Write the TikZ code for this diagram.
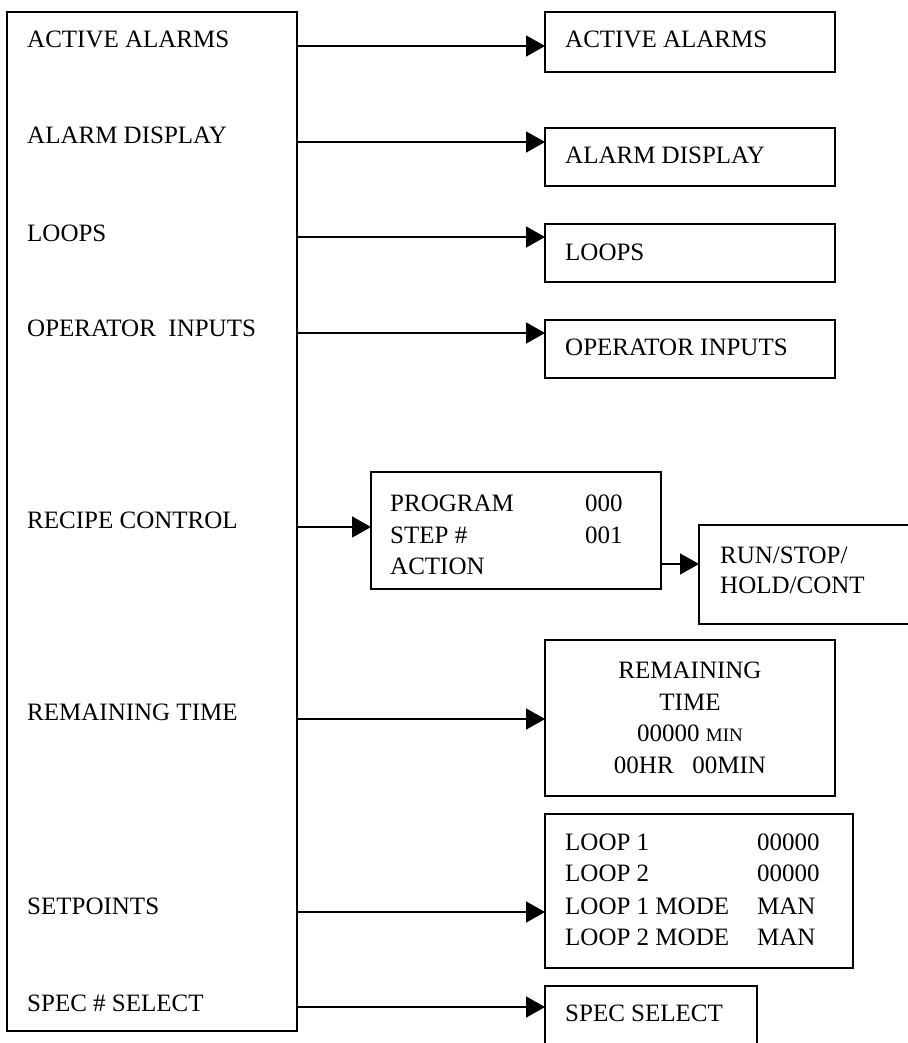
\documentclass[tikz,border=0pt]{standalone}
\usepackage{fontspec}
\setmainfont{Liberation Serif}
\usetikzlibrary{arrows.meta}
\begin{document}
\begin{tikzpicture}[x=1pt,y=-1pt,
  box/.style={draw,line width=1.8pt,rectangle,inner sep=0pt,outer sep=0pt,anchor=north west},
  lbl/.style={inner sep=0pt,anchor=base west,font=\fontsize{25}{29}\selectfont},
  clbl/.style={inner sep=0pt,anchor=base,font=\fontsize{25}{29}\selectfont},
  arr/.style={line width=1.8pt,-{Triangle[length=19pt,width=21pt]}}]
\useasboundingbox (0,0) rectangle (907,1043);

% main menu column
\node[box,minimum width=290pt,minimum height=1019pt] (menu) at (7,12) {};
\node[lbl] (m1) at (27,48) {ACTIVE ALARMS};
\node[lbl] (m2) at (27,144) {ALARM DISPLAY};
\node[lbl] (m3) at (27,241) {LOOPS};
\node[lbl] (m4) at (27,336) {OPERATOR\ \ INPUTS};
\node[lbl] (m5) at (27,528) {RECIPE CONTROL};
\node[lbl] (m6) at (27,720) {REMAINING TIME};
\node[lbl] (m7) at (27,914) {SETPOINTS};
\node[lbl] (m8) at (27,1011) {SPEC \# SELECT};

% screens
\node[box,minimum width=290pt,minimum height=60pt] (aa) at (545,12) {};
\node[lbl] at (565,48) {ACTIVE ALARMS};
\node[box,minimum width=290pt,minimum height=58pt] (ad) at (545,128) {};
\node[lbl] at (565,164) {ALARM DISPLAY};
\node[box,minimum width=290pt,minimum height=58pt] (lp) at (545,224) {};
\node[lbl] at (565,260) {LOOPS};
\node[box,minimum width=290pt,minimum height=58pt] (oi) at (545,320) {};
\node[lbl] at (565,355) {OPERATOR INPUTS};

\node[box,minimum width=290pt,minimum height=117pt] (prog) at (371,472) {};
\node[lbl] at (390,511) {PROGRAM};
\node[lbl] at (585,511) {000};
\node[lbl] at (390,543) {STEP \#};
\node[lbl] at (585,543) {001};
\node[lbl] at (390,574) {ACTION};

\node[box,minimum width=260pt,minimum height=99pt] (run) at (699,525) {};
\node[lbl] at (720,563) {RUN/STOP/};
\node[lbl] at (720,593) {HOLD/CONT};

\node[box,minimum width=290pt,minimum height=156pt] (rt) at (545,640) {};
\node[clbl] at (690,678) {REMAINING};
\node[clbl] at (690,710) {TIME};
\node[clbl] at (690,741) {00000 {\fontsize{19}{22}\selectfont MIN}};
\node[clbl] at (690,773) {00HR\ \ \ 00MIN};

\node[box,minimum width=308pt,minimum height=154pt] (sp) at (545,814) {};
\node[lbl] at (565,850) {LOOP 1};
\node[lbl] at (757,850) {00000};
\node[lbl] at (565,881) {LOOP 2};
\node[lbl] at (757,881) {00000};
\node[lbl] at (565,914) {LOOP 1 MODE};
\node[lbl] at (757,914) {MAN};
\node[lbl] at (565,945) {LOOP 2 MODE};
\node[lbl] at (757,945) {MAN};

\node[box,minimum width=212pt,minimum height=100pt] (ss) at (545,986) {};
\node[lbl] at (565,1021) {SPEC SELECT};

% connector heights
\coordinate (c1) at (0,46);
\coordinate (c2) at (0,142);
\coordinate (c3) at (0,237);
\coordinate (c4) at (0,333);
\coordinate (c5) at (0,527);
\coordinate (c6) at (0,719);
\coordinate (c7) at (0,912);
\coordinate (c8) at (0,1007);
\coordinate (c9) at (0,564);

\draw[arr] (menu.east |- c1) -- (aa.west |- c1);
\draw[arr] (menu.east |- c2) -- (ad.west |- c2);
\draw[arr] (menu.east |- c3) -- (lp.west |- c3);
\draw[arr] (menu.east |- c4) -- (oi.west |- c4);
\draw[arr] (menu.east |- c5) -- (prog.west |- c5);
\draw[arr] (prog.east |- c9) -- (run.west |- c9);
\draw[arr] (menu.east |- c6) -- (rt.west |- c6);
\draw[arr] (menu.east |- c7) -- (sp.west |- c7);
\draw[arr] (menu.east |- c8) -- (ss.west |- c8);
\end{tikzpicture}
\end{document}
